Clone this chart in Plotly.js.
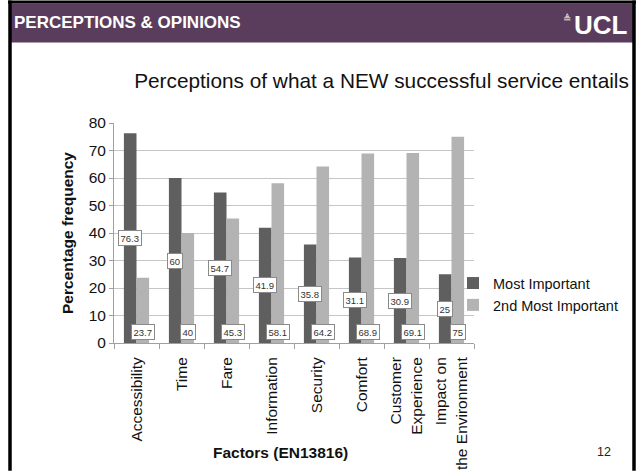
<!DOCTYPE html>
<html>
<head>
<meta charset="utf-8">
<script src="https://cdn.plot.ly/plotly-3.0.1.min.js"></script>
<style>
  html, body { margin: 0; padding: 0; background: #ffffff; }
  #chart { width: 639px; height: 471px; }
</style>
</head>
<body>
<div id="chart"></div>
<script>
// ---- data ----
const categories = ['Accessibility', 'Time', 'Fare', 'Information', 'Security', 'Comfort', 'Customer<br>Experience', 'Impact on<br>the Environment'];
const mostImportant = [76.3, 60, 54.7, 41.9, 35.8, 31.1, 30.9, 25];
const secondMostImportant = [23.7, 40, 45.3, 58.1, 64.2, 68.9, 69.1, 75];
const seriesNames = ['Most Important', '2nd Most Important'];
const yTickVals = [0, 10, 20, 30, 40, 50, 60, 70, 80];

const chartTitle = 'Perceptions of what a NEW successful service entails';
const yTitle = 'Percentage frequency';
const xTitle = 'Factors (EN13816)';
const slideHeader = 'PERCEPTIONS & OPINIONS';
const logoText = 'UCL';
const pageNumber = '12';

// ---- layout geometry ----
const W = 639, H = 471;
const L = 114, R = 474, T = 122.7, B = 343;
const px = x => (x - L) / (R - L);
const py = y => (B - y) / (B - T);

const FONT = 'Liberation Sans, Arial, Helvetica, sans-serif';
const DARK = '#5f5f5f';
const LIGHT = '#b3b3b3';
const HEADER = '#5a3d5c';

const BARGAP = 0.44;
const half = (1 - BARGAP) / 4; // centre offset of each bar in a group

const traces = [
  {
    type: 'bar', name: seriesNames[0], x: categories, y: mostImportant,
    marker: { color: DARK }, hoverinfo: 'x+y'
  },
  {
    type: 'bar', name: seriesNames[1], x: categories, y: secondMostImportant,
    marker: { color: LIGHT }, hoverinfo: 'x+y'
  }
];

const labelStyle = {
  showarrow: false, bgcolor: '#ffffff', bordercolor: '#8a8a8a', borderwidth: 1,
  borderpad: 1.5, font: { family: FONT, size: 9.5, color: '#333333' }
};

const annotations = [];
mostImportant.forEach((v, i) => {
  annotations.push(Object.assign({}, labelStyle, {
    xref: 'x', yref: 'y', x: i - half, y: v / 2, text: String(v),
    xanchor: 'center', yanchor: 'middle'
  }));
});
secondMostImportant.forEach((v, i) => {
  annotations.push(Object.assign({}, labelStyle, {
    xref: 'x', yref: 'y', x: i + half, y: 0, text: String(v),
    xanchor: 'center', yanchor: 'bottom', yshift: 3
  }));
});

// x axis title placed as in the reference
annotations.push({
  xref: 'paper', yref: 'paper', x: px(280), y: py(453), text: '<b>' + xTitle + '</b>',
  showarrow: false, xanchor: 'center', yanchor: 'middle',
  font: { family: FONT, size: 15.5, color: '#111111' }
});
// slide header text
annotations.push({
  xref: 'paper', yref: 'paper', x: px(12), y: py(22), text: '<b>' + slideHeader + '</b>',
  showarrow: false, xanchor: 'left', yanchor: 'middle',
  font: { family: FONT, size: 17, color: '#ffffff' }
});
annotations.push({
  xref: 'paper', yref: 'paper', x: px(572), y: py(25), text: '<b>' + logoText + '</b>',
  showarrow: false, xanchor: 'left', yanchor: 'middle',
  font: { family: FONT, size: 26, color: '#ffffff' }
});
annotations.push({
  xref: 'paper', yref: 'paper', x: px(561), y: py(18), text: '≜',
  showarrow: false, xanchor: 'left', yanchor: 'middle',
  font: { family: FONT, size: 10, color: '#ffffff' }
});
// page number
annotations.push({
  xref: 'paper', yref: 'paper', x: px(604), y: py(452), text: pageNumber,
  showarrow: false, xanchor: 'center', yanchor: 'middle',
  font: { family: FONT, size: 12.5, color: '#222222' }
});

const shapes = [
  { type: 'rect', xref: 'paper', yref: 'paper', x0: px(9), x1: px(633), y0: py(3), y1: py(42),
    fillcolor: HEADER, line: { width: 0 } },
  { type: 'line', xref: 'paper', yref: 'paper', x0: px(10), x1: px(10), y0: py(0), y1: py(H),
    line: { color: '#000000', width: 3.5 } },
  { type: 'line', xref: 'paper', yref: 'paper', x0: px(634), x1: px(634), y0: py(0), y1: py(H),
    line: { color: '#000000', width: 3.5 } },
  { type: 'line', xref: 'paper', yref: 'paper', x0: px(8), x1: px(636), y0: py(1.5), y1: py(1.5),
    line: { color: '#000000', width: 3 } }
];

const layout = {
  width: W, height: H,
  margin: { l: L, r: W - R, t: T, b: H - B, pad: 0 },
  paper_bgcolor: '#ffffff', plot_bgcolor: '#ffffff',
  font: { family: FONT, size: 15.5, color: '#111111' },
  title: {
    text: chartTitle, xref: 'container', yref: 'container',
    x: 381.5 / W, xanchor: 'center', y: 1 - 81 / H, yanchor: 'middle',
    font: { family: FONT, size: 20.8, color: '#111111' }
  },
  barmode: 'group', bargap: BARGAP, bargroupgap: 0,
  xaxis: {
    type: 'category', tickangle: -90, tickson: 'boundaries',
    ticks: 'outside', ticklen: 5, tickcolor: '#a0a0a0', tickwidth: 1,
    showline: true, linecolor: '#a0a0a0', linewidth: 1,
    showgrid: false, zeroline: false, ticklabelstandoff: 7,
    tickfont: { family: FONT, size: 15.5, color: '#111111' },
    automargin: false
  },
  yaxis: {
    range: [0, 80], tickvals: yTickVals, ticktext: yTickVals.map(String),
    ticks: 'outside', ticklen: 4, tickcolor: '#a0a0a0', tickwidth: 1,
    showline: true, linecolor: '#a0a0a0', linewidth: 1,
    showgrid: true, gridcolor: '#c6c6c6', gridwidth: 1, zeroline: false,
    tickfont: { family: FONT, size: 15.5, color: '#111111' },
    title: { text: '<b>' + yTitle + '</b>', standoff: 11, font: { family: FONT, size: 15.5, color: '#111111' } },
    automargin: false
  },
  showlegend: true,
  legend: {
    x: px(453), xanchor: 'left', y: py(267), yanchor: 'top',
    bgcolor: 'rgba(0,0,0,0)', borderwidth: 0,
    font: { family: FONT, size: 14.5, color: '#111111' },
    traceorder: 'normal'
  },
  annotations: annotations,
  shapes: shapes
};

Plotly.newPlot('chart', traces, layout, { displayModeBar: false, staticPlot: true });
</script>
</body>
</html>
